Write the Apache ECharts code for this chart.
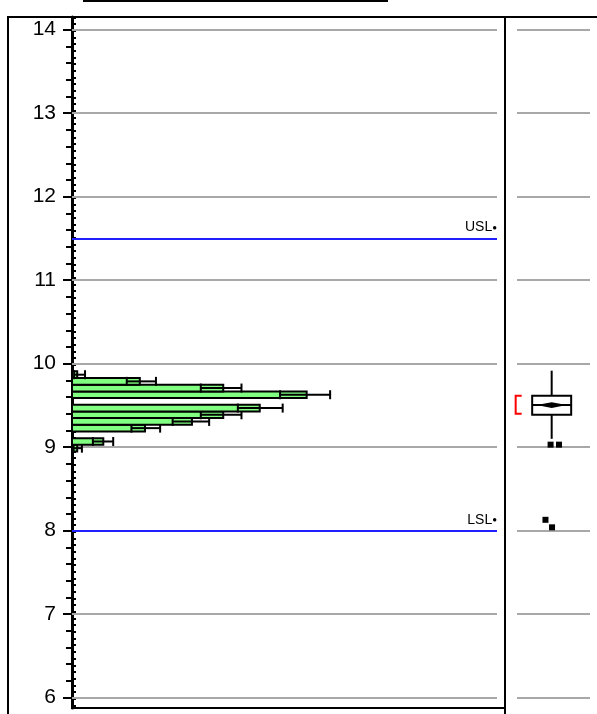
<!DOCTYPE html>
<html>
<head>
<meta charset="utf-8">
<script src="https://cdn.jsdelivr.net/npm/echarts@6/dist/echarts.min.js"></script>
<style>
  html, body { margin: 0; padding: 0; background: #fff; }
  #main { width: 597px; height: 714px; }
</style>
</head>
<body>
<div id="main"></div>
<script>
// y axis range and tick labels
var yMin = 5.876, yMax = 14.152
var yTicks = [6, 7, 8, 9, 10, 11, 12, 13, 14]

// histogram (bin centres, counts and interval of each bar)
var binWidth = 0.08
var binCenters = [8.988, 9.068, 9.228, 9.308, 9.388, 9.468, 9.628, 9.708, 9.788, 9.868]
var binCounts  = [1, 6, 14, 23, 29, 36, 45, 29, 13, 1]
var ciLow      = [0.3, 4, 11.4, 19.3, 24.7, 31.8, 39.9, 24.7, 10.5, 0.4]
var ciHigh     = [1.9, 7.9, 16.9, 26.3, 32.5, 40.4, 49.5, 32.5, 16.1, 2.5]

// spec limits
var specNames  = ['USL', 'LSL']
var specValues = [11.5, 8]

// box plot stats
var boxStats = { low: 9.10, q1: 9.388, median: 9.504, q3: 9.616, high: 9.916, mean: 9.504, meanCI: 0.034 }
var shortestHalf = [9.40, 9.616]
var outlierX = [-0.03, 0.2, -0.17, 0.01]
var outlierY = [9.03, 9.03, 8.13, 8.04]

// 刻度
var minorTicks = []
for (var t = 6; t <= 14.0001; t += 0.2) minorTicks.push(+t.toFixed(2))
var binEdges = []
for (var e = 9.028; e > yMin; e -= binWidth) binEdges.push(+e.toFixed(3))
for (var e2 = 9.028 + binWidth; e2 < yMax; e2 += binWidth) binEdges.push(+e2.toFixed(3))

var histData = binCenters.map(function (c, i) {
  return [c, binCounts[i], ciLow[i], ciHigh[i]]
})

function renderBar(params, api) {
  var c = api.value(0), n = api.value(1), lo = api.value(2), hi = api.value(3)
  var p0 = api.coord([0, c + binWidth / 2])
  var p1 = api.coord([n, c - binWidth / 2])
  var a = api.coord([lo, c]), b = api.coord([hi, c])
  var cap = 4.5
  var ls = { stroke: '#000', lineWidth: 2 }
  return {
    type: 'group',
    children: [
      { type: 'rect', shape: { x: p0[0], y: p0[1], width: p1[0] - p0[0], height: p1[1] - p0[1] },
        style: { fill: '#80ff80', stroke: '#000', lineWidth: 2 } },
      { type: 'line', shape: { x1: a[0], y1: a[1], x2: b[0], y2: b[1] }, style: ls },
      { type: 'line', shape: { x1: a[0], y1: a[1] - cap, x2: a[0], y2: a[1] + cap }, style: ls },
      { type: 'line', shape: { x1: b[0], y1: b[1] - cap, x2: b[0], y2: b[1] + cap }, style: ls }
    ]
  }
}

function renderBox(params, api) {
  var s = boxStats
  var cx = api.coord([0, s.median])[0]
  var y = function (v) { return api.coord([0, v])[1] }
  var hw = 19.5
  var ls = { stroke: '#000', lineWidth: 2 }
  var kids = [
    { type: 'line', shape: { x1: cx, y1: y(s.high), x2: cx, y2: y(s.q3) }, style: ls },
    { type: 'line', shape: { x1: cx, y1: y(s.q1), x2: cx, y2: y(s.low) }, style: ls },
    { type: 'rect', shape: { x: cx - hw, y: y(s.q3), width: hw * 2, height: y(s.q1) - y(s.q3) },
      style: { fill: '#fff', stroke: '#000', lineWidth: 2 } },
    { type: 'line', shape: { x1: cx - hw, y1: y(s.median), x2: cx + hw, y2: y(s.median) }, style: ls },
    { type: 'polygon', shape: { points: [[cx - 15, y(s.mean)], [cx, y(s.mean + s.meanCI)], [cx + 15, y(s.mean)], [cx, y(s.mean - s.meanCI)]] },
      style: { fill: '#000' } },
    // shortest half
    { type: 'polyline', shape: { points: [[cx - 30, y(shortestHalf[1])], [cx - 36, y(shortestHalf[1])], [cx - 36, y(shortestHalf[0])], [cx - 30, y(shortestHalf[0])]] },
      style: { stroke: '#ff0000', lineWidth: 2, fill: null } }
  ]
  for (var i = 0; i < outlierY.length; i++) {
    var p = api.coord([outlierX[i], outlierY[i]])
    kids.push({ type: 'rect', shape: { x: p[0] - 3, y: p[1] - 3, width: 6, height: 6 }, style: { fill: '#000' } })
  }
  return { type: 'group', children: kids }
}

var grayLine = { color: '#a8a8a8', width: 2, type: 'solid' }
var gridMarks = yTicks.map(function (v) { return { yAxis: v } })

var dom = document.getElementById('main')
var myChart = echarts.init(dom)
var option = {
  animation: false,
  textStyle: { fontFamily: 'Liberation Sans, Arial, sans-serif' },
  grid: [
    { left: 72, right: 100, top: 17, bottom: 6 },
    { left: 517, right: 7, top: 17, bottom: 6 }
  ],
  xAxis: [
    { gridIndex: 0, type: 'value', min: 0, max: 81.5, show: false },
    { gridIndex: 1, type: 'value', min: -0.95, max: 1.05, show: false }
  ],
  yAxis: [
    { gridIndex: 0, type: 'value', min: yMin, max: yMax, position: 'left', offset: 0,
      axisLine: { show: true, lineStyle: { color: '#000', width: 3 } },
      axisTick: { show: true, customValues: yTicks, length: 9, lineStyle: { color: '#000', width: 2 } },
      axisLabel: { show: true, customValues: yTicks, color: '#000', fontSize: 21, margin: 16 },
      splitLine: { show: false } },
    { gridIndex: 0, type: 'value', min: yMin, max: yMax, position: 'left', offset: 0,
      axisLine: { show: false },
      axisTick: { show: true, customValues: minorTicks, length: 6, lineStyle: { color: '#000', width: 2 } },
      axisLabel: { show: false }, splitLine: { show: false } },
    { gridIndex: 0, type: 'value', min: yMin, max: yMax, position: 'left', offset: 0,
      axisLine: { show: false },
      axisTick: { show: true, inside: true, customValues: binEdges, length: 4, lineStyle: { color: '#000', width: 2 } },
      axisLabel: { show: false }, splitLine: { show: false } },
    { gridIndex: 1, type: 'value', min: yMin, max: yMax, show: false }
  ],
  graphic: [
    { type: 'line', shape: { x1: 83, y1: 1, x2: 388, y2: 1 }, style: { stroke: '#000', lineWidth: 2 } },
    { type: 'rect', shape: { x: 8, y: 17, width: 600, height: 710 }, style: { fill: null, stroke: '#000', lineWidth: 2 } },
    { type: 'line', shape: { x1: 505, y1: 17, x2: 505, y2: 714 }, style: { stroke: '#000', lineWidth: 2 } },
    { type: 'line', shape: { x1: 71, y1: 708, x2: 505, y2: 708 }, style: { stroke: '#000', lineWidth: 2 } }
  ],
  series: [
    {
      name: 'grid', type: 'line', xAxisIndex: 0, yAxisIndex: 0, data: [], silent: true,
      markLine: {
        silent: true, symbol: 'none', animation: false,
        lineStyle: grayLine, label: { show: false }, data: gridMarks
      }
    },
    {
      name: 'spec', type: 'line', xAxisIndex: 0, yAxisIndex: 0, data: [], silent: true,
      markLine: {
        silent: true, symbol: 'none', animation: false,
        lineStyle: { color: '#2020ff', width: 2, type: 'solid' },
        label: {
          show: true, position: 'insideEndTop', distance: [0, 4],
          formatter: function (p) { return '{a|' + p.name + '}{d|●}' },
          rich: { a: { fontSize: 14, color: '#000' }, d: { fontSize: 8, color: '#000', padding: [0, 0, 0, 0] } }
        },
        data: specNames.map(function (n, i) { return { name: n, yAxis: specValues[i] } })
      }
    },
    {
      name: 'hist', type: 'custom', xAxisIndex: 0, yAxisIndex: 0,
      renderItem: renderBar, data: histData, z: 5
    },
    {
      name: 'boxgrid', type: 'line', xAxisIndex: 1, yAxisIndex: 3, data: [], silent: true,
      markLine: {
        silent: true, symbol: 'none', animation: false,
        lineStyle: grayLine, label: { show: false }, data: gridMarks
      }
    },
    {
      name: 'box', type: 'custom', xAxisIndex: 1, yAxisIndex: 3, clip: false,
      renderItem: renderBox, data: [[0, boxStats.median]], z: 5
    }
  ]
}
myChart.setOption(option)
</script>
</body>
</html>
